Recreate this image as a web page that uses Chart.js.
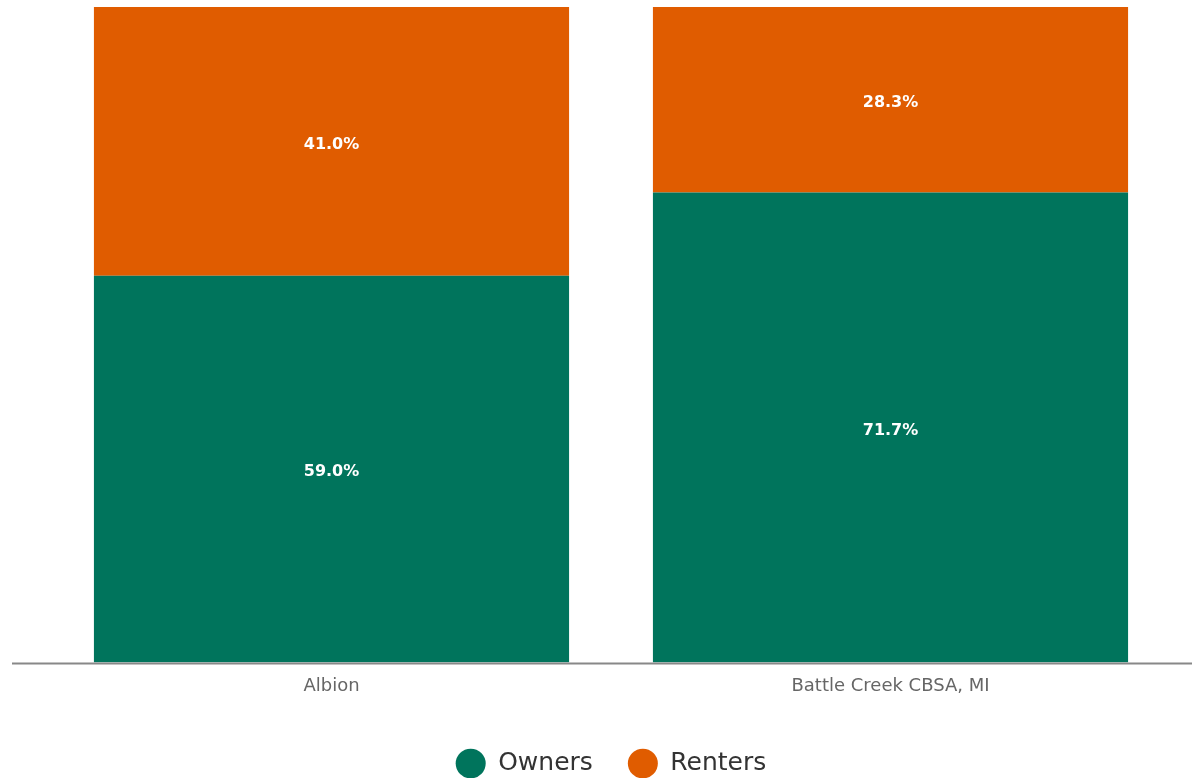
<!DOCTYPE html>
<html>
<head>
<meta charset="utf-8">
<script src="https://cdn.jsdelivr.net/npm/chart.js@4/dist/chart.umd.min.js"></script>
<style>
  html, body { margin: 0; padding: 0; background: #fff; }
  #wrap { width: 1192px; height: 778px; position: relative; }
</style>
</head>
<body>
<div id="wrap"><canvas id="tenure"></canvas></div>
<script>
const places = ['Albion', 'Battle Creek CBSA, MI'];
const owners = [59.0, 71.7];
const renters = [41.0, 28.3];

const GREEN = '#00745c';
const ORANGE = '#e05c00';
const FONT = "'DejaVu Sans', sans-serif";

// baseline across the full width, under the bars
const baseline = {
  id: 'baseline',
  afterDatasetsDraw(chart) {
    const { ctx, chartArea } = chart;
    ctx.save();
    ctx.strokeStyle = '#888888';
    ctx.lineWidth = 2;
    ctx.beginPath();
    ctx.moveTo(12, chartArea.bottom + 1);
    ctx.lineTo(chart.width, chartArea.bottom + 1);
    ctx.stroke();
    ctx.restore();
  }
};

// percentage labels in the middle of each segment
const segLabels = {
  id: 'segLabels',
  afterDatasetsDraw(chart) {
    const { ctx } = chart;
    ctx.save();
    ctx.fillStyle = '#ffffff';
    ctx.font = 'bold 16px ' + FONT;
    ctx.textAlign = 'center';
    ctx.textBaseline = 'middle';
    chart.data.datasets.forEach((ds, i) => {
      chart.getDatasetMeta(i).data.forEach((bar, j) => {
        const mid = (bar.y + bar.base) / 2;
        ctx.fillText(ds.data[j].toFixed(1) + '%', bar.x, mid + 3);
      });
    });
    ctx.restore();
  }
};

new Chart(document.getElementById('tenure').getContext('2d'), {
  type: 'bar',
  data: {
    labels: places,
    datasets: [
      { label: 'Owners', data: owners, backgroundColor: GREEN },
      { label: 'Renters', data: renters, backgroundColor: ORANGE },
    ],
  },
  options: {
    responsive: true,
    maintainAspectRatio: false,
    animation: false,
    categoryPercentage: 1,
    barPercentage: 0.85,
    layout: { padding: { top: 7, left: 52, right: 22, bottom: -8 } },
    plugins: {
      tooltip: { enabled: false },
      legend: {
        position: 'bottom',
        labels: {
          usePointStyle: true,
          pointStyle: 'circle',
          boxWidth: 30,
          boxHeight: 21,
          pointStyleWidth: 30,
          padding: 35,
          color: '#333333',
          font: { size: 25, family: FONT },
        },
      },
    },
    scales: {
      x: {
        stacked: true,
        grid: { display: false, drawTicks: false },
        border: { display: false },
        ticks: { color: '#666666', padding: 13, font: { size: 18, family: FONT } },
        afterFit(scale) { scale.height += 6; },
      },
      y: {
        stacked: true,
        display: false,
        min: 0,
        max: 100,
      },
    },
  },
  plugins: [baseline, segLabels],
});
</script>
</body>
</html>
